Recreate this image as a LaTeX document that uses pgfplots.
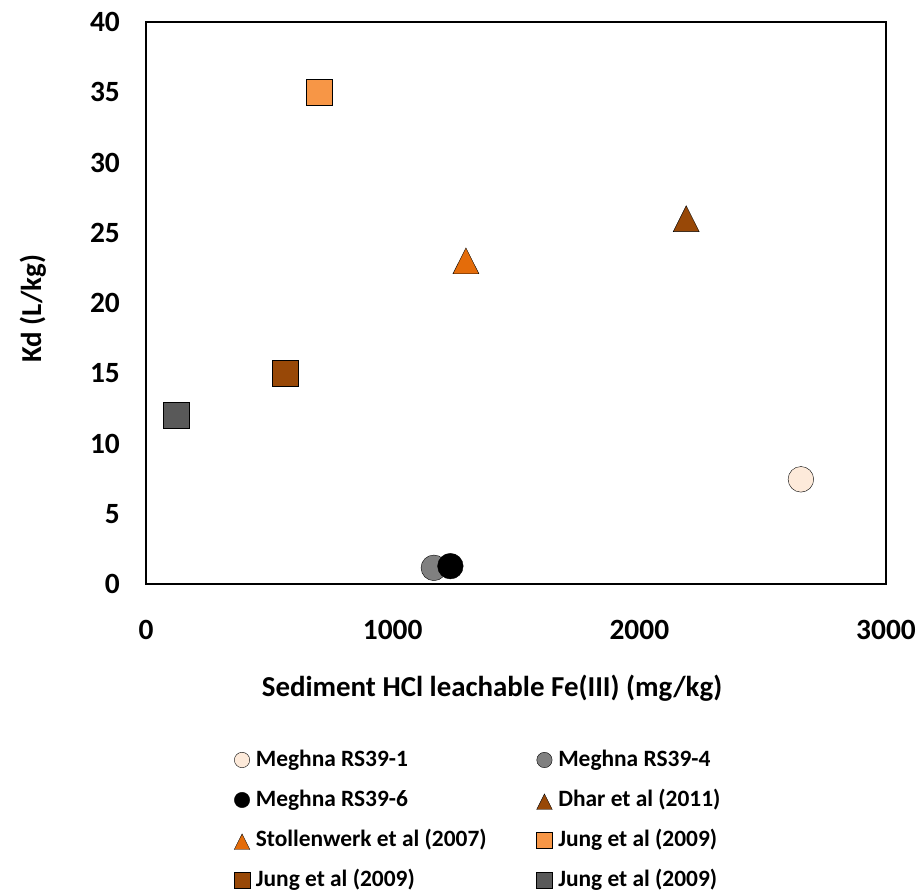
\documentclass[border=0pt]{standalone}
\usepackage{fontspec}
\setmainfont{Carlito}
\usepackage{pgfplots}
\pgfplotsset{compat=1.18}
\definecolor{peach}{HTML}{FDEADA}
\definecolor{midgray}{HTML}{808080}
\definecolor{darkbrown}{HTML}{984807}
\definecolor{dorange}{HTML}{E46C0A}
\definecolor{lorange}{HTML}{F79646}
\definecolor{dgray}{HTML}{595959}
\begin{document}
\begin{tikzpicture}[x=1bp,y=1bp]
\path[use as bounding box] (0,0) rectangle (921,895);
\begin{axis}[
  at={(146bp,311bp)}, anchor=south west,
  scale only axis, width=740bp, height=562bp,
  xmin=0, xmax=3000, ymin=0, ymax=40,
  xtick={0,1000,2000,3000}, ytick={0,5,...,40},
  major tick length=0pt,
  axis line style={line width=2.2bp, black},
  /pgf/number format/assume math mode=true,
  /pgf/number format/1000 sep={},
  ticklabel style={font=\fontsize{29.5}{34}\selectfont\bfseries, inner sep=0pt},
  xticklabel style={anchor=north, yshift=-36bp},
  yticklabel style={anchor=east, xshift=-26bp},
  xlabel={Sediment HCl leachable Fe(III) (mg/kg)},
  ylabel={Kd (L/kg)},
  label style={font=\fontsize{29}{34}\selectfont\bfseries},
  xlabel style={at={(rel axis cs:0.4676,-0.185)}, anchor=center},
  ylabel style={at={(rel axis cs:-0.153,0.49)}, anchor=center, rotate=0},
  legend columns=2,
  legend cell align=left,
  legend image code/.code={\draw[#1, /tikz/every mark/.append style={scale=0.6}] plot coordinates {(0bp,1.5bp)};},
  legend style={draw=none, fill=none, inner sep=0pt,
    at={(rel axis cs:0.119,-0.295)}, anchor=north west,
    font=\fontsize{23.5}{28}\selectfont\bfseries,
    row sep=17bp,
    nodes={inner sep=0pt, text height=17bp, text depth=6bp},
    /tikz/every odd column/.append style={column sep=6bp},
    /tikz/every even column/.append style={column sep=50bp}},
  every axis plot/.append style={only marks, mark options={draw=black, line width=1.1bp}},
]
\addplot[mark=*, mark size=12.8bp, mark options={fill=peach}] coordinates {(2655,7.45)};
\addlegendentry{Meghna RS39-1}
\addplot[mark=*, mark size=12.8bp, mark options={fill=midgray}] coordinates {(1167,1.15)};
\addlegendentry{Meghna RS39-4}
\addplot[mark=*, mark size=12.8bp, mark options={fill=black}] coordinates {(1234,1.27)};
\addlegendentry{Meghna RS39-6}
\addplot[mark=triangle*, mark size=15bp, mark options={fill=darkbrown, yshift=-4.3bp, yscale=1.15}] coordinates {(2190,26)};
\addlegendentry{Dhar et al (2011)}
\addplot[mark=triangle*, mark size=15bp, mark options={fill=dorange, yshift=-4.3bp, yscale=1.15}] coordinates {(1297,23)};
\addlegendentry{Stollenwerk et al (2007)}
\addplot[mark=square*, mark size=13bp, mark options={fill=lorange}] coordinates {(702,35)};
\addlegendentry{Jung et al (2009)}
\addplot[mark=square*, mark size=13bp, mark options={fill=darkbrown}] coordinates {(563,15)};
\addlegendentry{Jung et al (2009)}
\addplot[mark=square*, mark size=13bp, mark options={fill=dgray}] coordinates {(124,12)};
\addlegendentry{Jung et al (2009)}
\end{axis}
\end{tikzpicture}
\end{document}
